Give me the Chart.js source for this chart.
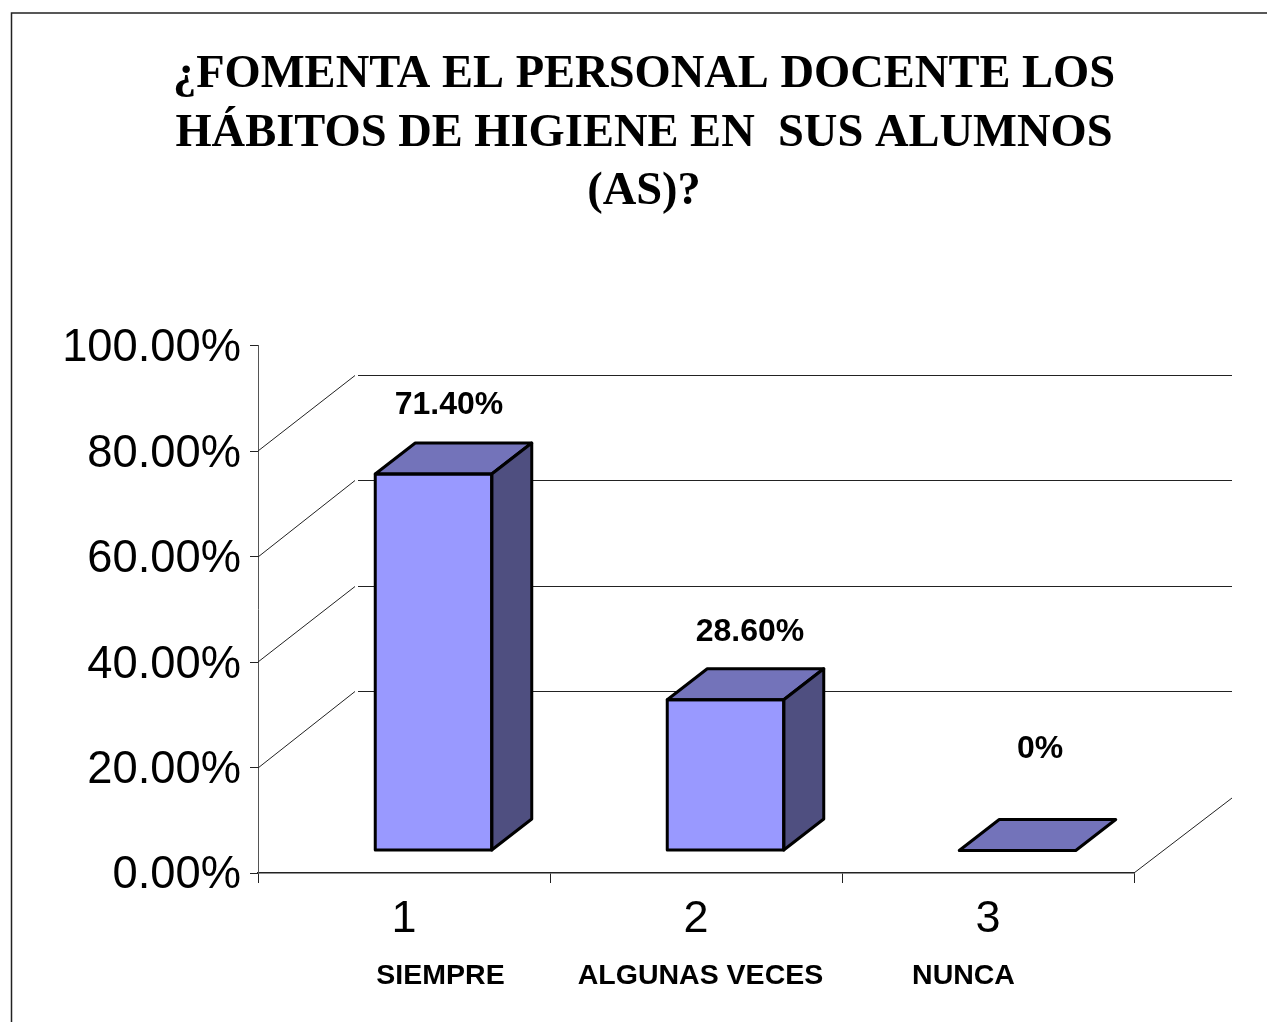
<!DOCTYPE html>
<html><head><meta charset="utf-8">
<style>html,body{margin:0;padding:0;background:#fff}canvas{display:block}</style>
<script src="https://cdn.jsdelivr.net/npm/chart.js@4"></script>
</head><body>
<canvas id="c" width="1267" height="1022"></canvas>
<script>
const titleLines = ['¿FOMENTA EL PERSONAL DOCENTE LOS', 'HÁBITOS DE HIGIENE EN  SUS ALUMNOS', '(AS)?'];
const categories = ['1', '2', '3'];
const responseNames = ['SIEMPRE', 'ALGUNAS VECES', 'NUNCA'];
const percentages = [71.4, 28.6, 0];
const valueLabels = ['71.40%', '28.60%', '0%'];

const namePositions = [[440.5, 976], [700.5, 976], [963.5, 976]];
const valueLabelPositions = [[449, 405], [750, 632], [1040, 749]];
const WALL = {dx: 98, dy: -76};
const DEPTH = {dx: 40, dy: -31};
const SHIFT = {dx: 29.5, dy: -22.5};
const FRONT = '#9999FF', TOP = '#7373BA', SIDE = '#4F4F80', INK = '#000';

const frame3d = {
  id: 'frame3d',
  beforeDraw(chart) {
    const c = chart.ctx;
    c.save();
    c.fillStyle = '#fff';
    c.fillRect(0, 0, chart.width, chart.height);
    c.strokeStyle = '#222';
    c.lineWidth = 1.5;
    c.beginPath();
    c.moveTo(11.5, 1022); c.lineTo(11.5, 13); c.lineTo(1267, 13);
    c.stroke();
    c.restore();
    if (!chart.$labelsNudged) {
      chart.scales.y.getLabelItems().forEach(it => { it.textOffset += 3; });
      chart.$labelsNudged = true;
    }
  },
  beforeDatasetsDraw(chart) {
    const c = chart.ctx, x = chart.scales.x, y = chart.scales.y;
    c.save();
    c.strokeStyle = '#222';
    c.lineWidth = 1;
    c.beginPath();
    y.ticks.forEach(t => {
      if (t.value <= 0 || t.value >= 100) return;
      const py = y.getPixelForValue(t.value);
      const back = Math.floor(py + WALL.dy) + .5;
      c.moveTo(x.left, Math.round(py));
      c.lineTo(x.left + 97, back);
      c.moveTo(x.left + 100, back);
      c.lineTo(x.right + WALL.dx, back);
    });
    c.moveTo(x.right, y.bottom);
    c.lineTo(x.right + WALL.dx, y.bottom - 75);
    c.stroke();
    c.restore();
  },
  beforeDatasetDraw(chart) {
    chart.ctx.save();
    chart.ctx.translate(SHIFT.dx, SHIFT.dy);
  },
  afterDatasetDraw(chart, args) {
    const c = chart.ctx;
    chart.getDatasetMeta(args.index).data.forEach(el => {
      const l = el.x - el.width / 2, r = el.x + el.width / 2, t = el.y, b = el.base;
      c.lineJoin = 'round';
      c.lineWidth = 3;
      c.strokeStyle = INK;
      c.fillStyle = TOP;
      c.beginPath();
      c.moveTo(l, t); c.lineTo(l + DEPTH.dx, t + DEPTH.dy);
      c.lineTo(r + DEPTH.dx, t + DEPTH.dy); c.lineTo(r, t); c.closePath();
      c.fill(); c.stroke();
      if (b - t > 0.5) {
        c.fillStyle = SIDE;
        c.beginPath();
        c.moveTo(r, t); c.lineTo(r + DEPTH.dx, t + DEPTH.dy);
        c.lineTo(r + DEPTH.dx, b + DEPTH.dy); c.lineTo(r, b); c.closePath();
        c.fill(); c.stroke();
        c.strokeRect(l, t, r - l, b - t);
      }
    });
    c.restore();
  },
  afterDraw(chart) {
    const c = chart.ctx;
    c.save();
    c.fillStyle = INK;
    c.textAlign = 'center';
    c.textBaseline = 'middle';
    c.font = 'bold 32px "Liberation Sans"';
    valueLabels.forEach((s, i) => c.fillText(s, valueLabelPositions[i][0], valueLabelPositions[i][1]));
    c.font = 'bold 28.5px "Liberation Sans"';
    responseNames.forEach((s, i) => c.fillText(s, namePositions[i][0], namePositions[i][1]));
    c.restore();
  }
};

new Chart(document.getElementById('c'), {
  type: 'bar',
  plugins: [frame3d],
  data: {
    labels: categories,
    datasets: [{
      data: percentages,
      backgroundColor: FRONT,
      borderWidth: 0,
      barPercentage: 116.5 / 292,
      categoryPercentage: 1,
      clip: false
    }]
  },
  options: {
    responsive: false,
    animation: false,
    layout: {padding: {left: 22, right: 1, top: 0, bottom: 0}},
    plugins: {
      legend: {display: false},
      tooltip: {enabled: false},
      title: {
        display: true,
        text: titleLines,
        color: '#000',
        font: {family: '"Liberation Serif"', weight: 'bold', size: 46.5, lineHeight: 1.26},
        padding: {top: 46, bottom: 124}
      }
    },
    scales: {
      x: {
        grid: {drawOnChartArea: false, tickLength: 10, color: '#222', offset: true},
        border: {color: '#222', width: 1.5},
        ticks: {color: '#000', font: {family: '"Liberation Sans"', size: 45}, padding: 10, maxRotation: 0},
        afterFit(s) { s.height = 149; }
      },
      y: {
        min: 0, max: 100,
        grid: {drawOnChartArea: false, tickLength: 8, color: '#222'},
        border: {color: '#555', width: 1},
        ticks: {
          stepSize: 20,
          color: '#000',
          font: {family: '"Liberation Sans"', size: 45.3},
          padding: 9,
          callback: v => v.toFixed(2) + '%'
        },
        afterFit(s) { s.width = 236; }
      },
      rightGutter: {
        position: 'right',
        grid: {display: false},
        border: {display: false},
        ticks: {display: false},
        afterFit(s) { s.width = 132; }
      }
    }
  }
});
</script>
</body></html>
